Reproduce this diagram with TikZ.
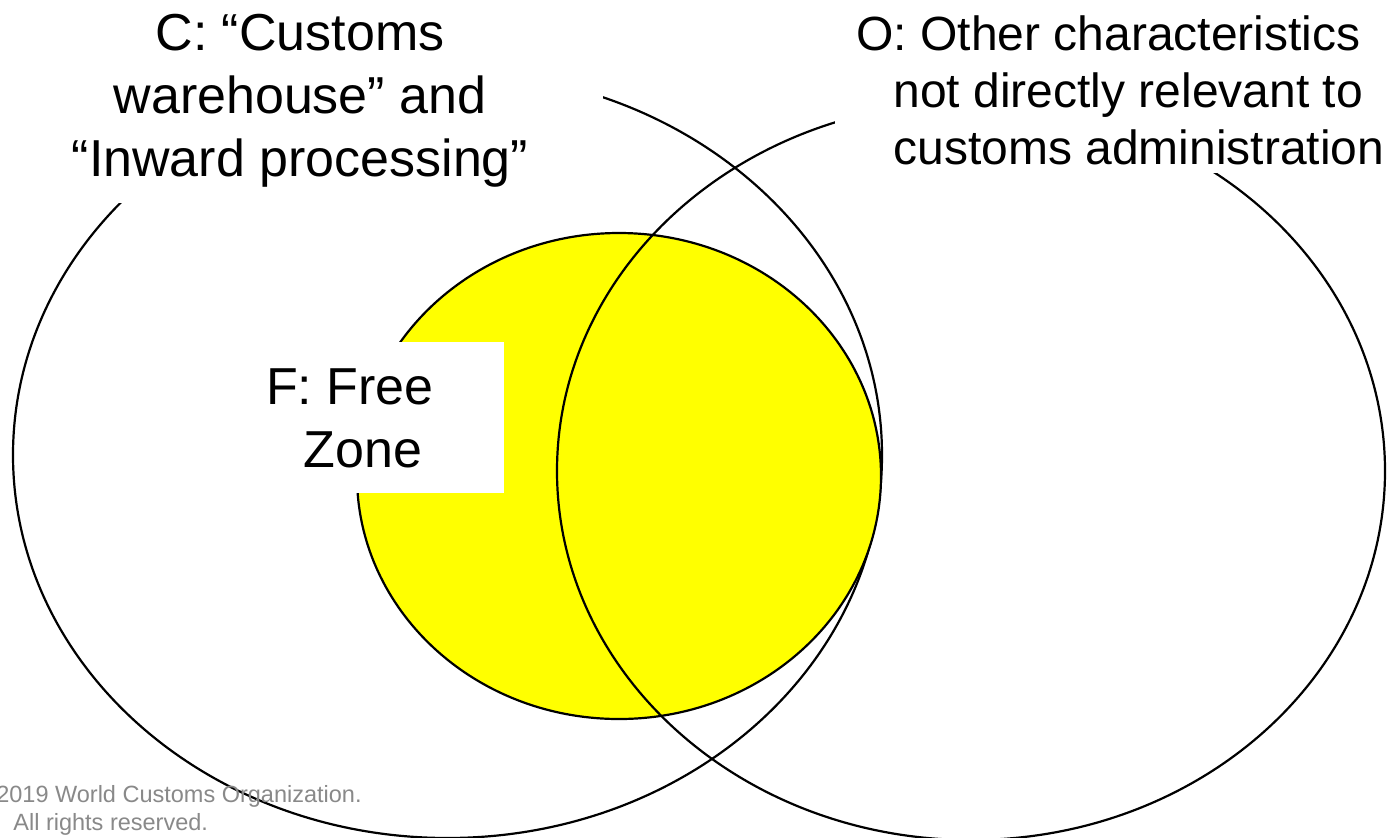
\documentclass[tikz,border=0pt]{standalone}
\usepackage{fontspec}
\setmainfont{Liberation Sans}
\definecolor{zoneyellow}{RGB}{255,255,0}
\definecolor{copygray}{RGB}{137,137,137}
\begin{document}
\begin{tikzpicture}[x=0.5pt,y=-0.5pt,
  setline/.style={line width=1.1pt, draw=black},
  biglabel/.style={font=\fontsize{26}{31.5}\selectfont, align=center, inner sep=0pt},
  sidelabel/.style={font=\fontsize{24}{28.5}\selectfont, align=left, inner sep=0pt},
  maskbox/.style={fill=white, draw=none, inner sep=0pt, outer sep=0pt},
  note/.style={font=\fontsize{11.75}{14}\selectfont, text=copygray, inner sep=0pt}]
\useasboundingbox[fill=white] (0,0) rectangle (1387,837);

% set C: customs warehouse / inward processing
\draw[setline] (447.5,455) ellipse [x radius=217.25pt, y radius=191.5pt];
% set F: free zone
\draw[setline, fill=zoneyellow] (619,476) ellipse [x radius=131pt, y radius=121.5pt];
% set O: other characteristics
\draw[setline] (971,471) ellipse [x radius=207pt, y radius=184.5pt];

% white label backgrounds
\node[maskbox, minimum width=304pt, minimum height=106.5pt] (Cmask) at (299,96.5) {};
\node[maskbox, minimum width=282.5pt, minimum height=91.5pt] (Omask) at (1117.5,81.5) {};
\node[maskbox, minimum width=154pt, minimum height=75.5pt] (Fmask) at (350,417.5) {};

% labels
\node[biglabel] (Ctext) at (300,100.5) {C: “Customs\\warehouse” and\\“Inward processing”};
\node[sidelabel, anchor=north west] (Otext) at (856,15) {O: Other characteristics\\\hspace*{18.5pt}not directly relevant to\\\hspace*{18.5pt}customs administration};
\node[biglabel] (Ftext) at (350,418) {F: Free\\\hspace*{13pt}Zone};

% copyright notice
\node[note, anchor=base east] (copy1) at (362,802) {©2019 World Customs Organization.};
\node[note, anchor=base west] (copy2) at (13,830) {All rights reserved.};
\end{tikzpicture}
\end{document}
